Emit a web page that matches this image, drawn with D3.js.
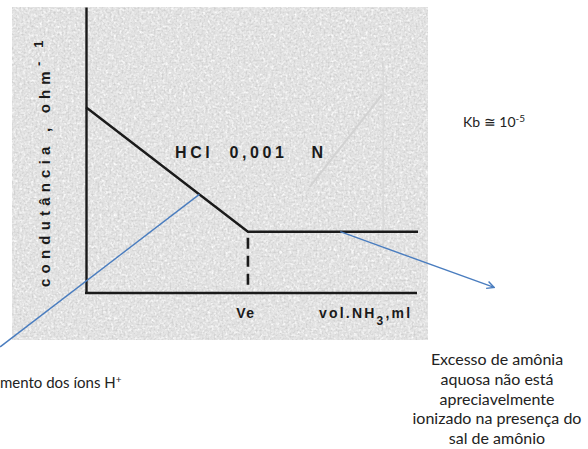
<!DOCTYPE html>
<html>
<head>
<meta charset="utf-8">
<script src="https://cdn.jsdelivr.net/npm/d3@7"></script>
<style>
  body { margin: 0; background: #fff; }
  svg { display: block; }
</style>
</head>
<body>
<div id="chart"></div>
<script>
// Conductometric titration of HCl 0,001 N with NH3 (schematic)
var volume = [0, 1, 2.05];          // vol. NH3, relative to Ve
var conductance = [1, 0.33, 0.33];  // arbitrary units
var veVolume = 1;

var titleText = "HCl  0,001   N";
var yLabel = "condutância , ohm";
var xLabel = "vol.NH";
var veLabel = "Ve";
var kbLabel = "Kb ≅ 10";
var leftNote = "mento dos íons H";
var rightNote = ["Excesso de amônia", "aquosa não está", "apreciavelmente", "ionizado na presença do", "sal de amônio"];

var svgWidth = 588;
var svgHeight = 449;

var svg = d3.select("#chart")
    .append("svg")
    .attr("width", svgWidth)
    .attr("height", svgHeight);

var defs = svg.append("defs");

// paper grain of the scanned figure
var grain = defs.append("filter").attr("id", "paper")
    .attr("x", 0).attr("y", 0).attr("width", "100%").attr("height", "100%");
grain.append("feTurbulence")
    .attr("type", "fractalNoise")
    .attr("baseFrequency", "0.5")
    .attr("numOctaves", 2)
    .attr("seed", 4)
    .attr("result", "n");
grain.append("feColorMatrix")
    .attr("in", "n")
    .attr("type", "matrix")
    .attr("values", "0 0 0 0 0.6  0 0 0 0 0.6  0 0 0 0 0.6  0 0 0 -2.4 1.35");

var light = defs.append("filter").attr("id", "light")
    .attr("x", 0).attr("y", 0).attr("width", "100%").attr("height", "100%");
light.append("feTurbulence")
    .attr("type", "fractalNoise")
    .attr("baseFrequency", "0.35")
    .attr("numOctaves", 2)
    .attr("seed", 11)
    .attr("result", "n");
light.append("feColorMatrix")
    .attr("in", "n")
    .attr("type", "matrix")
    .attr("values", "0 0 0 0 1  0 0 0 0 1  0 0 0 0 1  0 0 0 -2.4 1.3");

defs.append("marker")
    .attr("id", "arrow")
    .attr("viewBox", "0 0 10 10")
    .attr("refX", 9).attr("refY", 5)
    .attr("markerWidth", 9).attr("markerHeight", 9)
    .attr("markerUnits", "userSpaceOnUse")
    .attr("orient", "auto")
    .append("path")
    .attr("d", "M1,1 L9,5 L1,9")
    .attr("fill", "none")
    .attr("stroke", "#4a7dbf")
    .attr("stroke-width", 1.6);

// scanned area
var scan = {left: 12, top: 7, right: 428, bottom: 340};
["none", "url(#light)", "url(#paper)"].forEach(function(f, i) {
    svg.append("rect")
        .attr("x", scan.left).attr("y", scan.top)
        .attr("width", scan.right - scan.left).attr("height", scan.bottom - scan.top)
        .attr("fill", i == 0 ? "#e3e3e3" : null)
        .attr("filter", f);
});

var x = d3.scaleLinear().domain([0, 2.05]).range([86, 418]);
var y = d3.scaleLinear().domain([0, 1.54]).range([293, 7]);

// faint show-through from the back of the page
svg.append("path")
    .attr("d", d3.line()([[x(1.38), y(0.57)], [x(1.83), y(1.07)]]))
    .attr("stroke", "#d2d2d2").attr("stroke-width", 2).attr("fill", "none");
svg.append("path")
    .attr("d", d3.line()([[x(1.835), y(1.25)], [x(1.835), y(0.25)]]))
    .attr("stroke", "#d8d8d8").attr("stroke-width", 1.2).attr("fill", "none");

var ink = "#1a1a1a";

var yAxis = d3.axisLeft(y).ticks(0).tickSizeOuter(0);
var xAxis = d3.axisBottom(x).ticks(0).tickSizeOuter(0);

svg.append("g")
    .attr("transform", "translate(" + x(0) + ",0)")
    .call(yAxis)
    .call(g => g.select(".domain").attr("stroke", ink).attr("stroke-width", 2.4));

svg.append("g")
    .attr("transform", "translate(0," + y(0) + ")")
    .call(xAxis)
    .call(g => g.select(".domain").attr("stroke", ink).attr("stroke-width", 2.4)
        .attr("d", "M" + (x(0) - 1) + ",0H" + (x(2.05) - 1)));

var pts = volume.map((v, i) => [v, conductance[i]]);
svg.append("path")
    .datum(pts)
    .attr("d", d3.line().x(d => x(d[0])).y(d => y(d[1])))
    .attr("fill", "none")
    .attr("stroke", ink)
    .attr("stroke-width", 2.4)
    .attr("stroke-linejoin", "round");

svg.append("line")
    .attr("x1", x(veVolume)).attr("x2", x(veVolume))
    .attr("y1", y(0.33) + 6).attr("y2", y(0) - 4)
    .attr("stroke", ink)
    .attr("stroke-width", 2.6)
    .attr("stroke-dasharray", "11,7");

var scanFont = "'Liberation Sans', Arial, sans-serif";

svg.append("text")
    .attr("x", 175).attr("y", 158)
    .attr("font-family", scanFont)
    .attr("font-weight", "bold")
    .attr("font-size", 16)
    .attr("letter-spacing", 3.6)
    .attr("fill", ink)
    .attr("xml:space", "preserve")
    .style("white-space", "pre")
    .text(titleText);

svg.append("text")
    .attr("x", x(veVolume) - 2).attr("y", 318)
    .attr("text-anchor", "middle")
    .attr("font-family", scanFont)
    .attr("font-weight", "bold")
    .attr("font-size", 14)
    .attr("letter-spacing", 1.5)
    .attr("fill", ink)
    .text(veLabel);

var xl = svg.append("text")
    .attr("x", 319).attr("y", 318)
    .attr("font-family", scanFont)
    .attr("font-weight", "bold")
    .attr("font-size", 14)
    .attr("letter-spacing", 2.2)
    .attr("fill", ink);
xl.append("tspan").text(xLabel);
xl.append("tspan").attr("dy", 7).attr("font-size", 12).text("3");
xl.append("tspan").attr("dy", -7).text(",ml");

var yl = svg.append("text")
    .attr("transform", "translate(50,287) rotate(-90)")
    .attr("font-family", scanFont)
    .attr("font-weight", "bold")
    .attr("font-size", 15)
    .attr("letter-spacing", 5.2)
    .attr("fill", ink);
yl.append("tspan").text(yLabel);
yl.append("tspan").attr("dy", -7).attr("font-size", 13).text("- 1");

// annotations
var noteFont = "Lato, 'Open Sans', sans-serif";
var blue = "#4a7dbf";

svg.append("path")
    .attr("d", d3.line()([[x(0.7), y(1 - 0.67 * 0.7)], [x(-0.53), y(-0.29)]]))
    .attr("stroke", blue).attr("stroke-width", 1.4).attr("fill", "none");

svg.append("path")
    .attr("d", d3.line()([[x(1.57), y(0.33)], [x(2.52), y(0.03)]]))
    .attr("stroke", blue).attr("stroke-width", 1.4).attr("fill", "none")
    .attr("marker-end", "url(#arrow)");

var kb = svg.append("text")
    .attr("x", 463).attr("y", 127)
    .attr("font-family", noteFont)
    .attr("font-size", 14)
    .attr("fill", "#222");
kb.append("tspan").text(kbLabel);
kb.append("tspan").attr("dy", -5).attr("font-size", 10).text("-5");

var ln = svg.append("text")
    .attr("x", 0).attr("y", 388)
    .attr("font-family", noteFont)
    .attr("font-size", 15)
    .attr("fill", "#222");
ln.append("tspan").text(leftNote);
ln.append("tspan").attr("dy", -5).attr("font-size", 10).text("+");

svg.append("text")
    .attr("font-family", noteFont)
    .attr("font-size", 16)
    .attr("fill", "#222")
    .attr("text-anchor", "middle")
    .selectAll("tspan")
    .data(rightNote)
    .join("tspan")
    .attr("x", 497)
    .attr("y", (d, i) => 365 + i * 19.8)
    .text(d => d);
</script>
</body>
</html>
